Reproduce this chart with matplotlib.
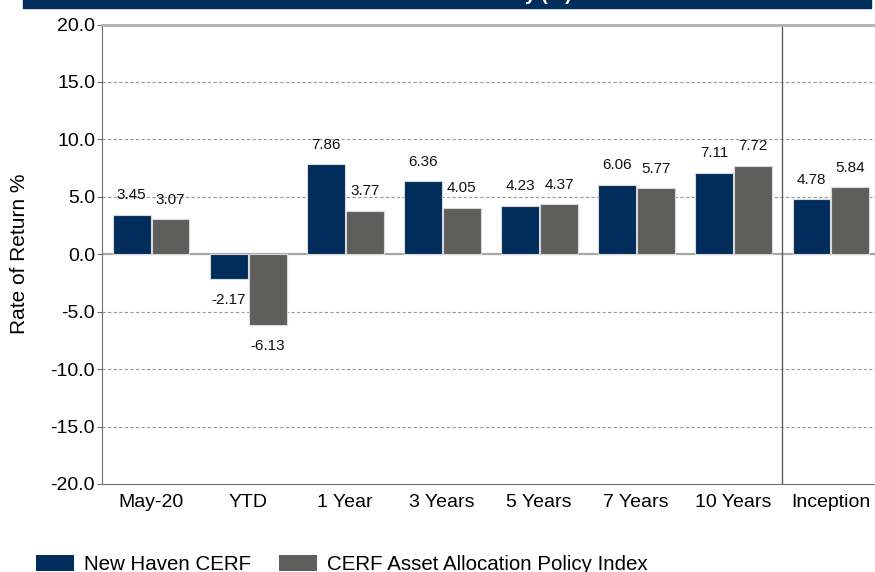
import matplotlib
matplotlib.use("Agg")
import matplotlib.pyplot as plt
from matplotlib.patches import Rectangle, Patch
import numpy as np

plt.rcParams['font.family'] = ['Liberation Sans', 'DejaVu Sans']

categories = ["May-20", "YTD", "1 Year", "3 Years", "5 Years", "7 Years", "10 Years", "Inception"]
cerf = [3.45, -2.17, 7.86, 6.36, 4.23, 6.06, 7.11, 4.78]
policy = [3.07, -6.13, 3.77, 4.05, 4.37, 5.77, 7.72, 5.84]
series_names = ["New Haven CERF", "CERF Asset Allocation Policy Index"]
yticks = [-20, -15, -10, -5, 0, 5, 10, 15, 20]

navy = "#002D5B"
gray = "#5E5F5C"

W, H = 875, 572
fig = plt.figure(figsize=(W / 100, H / 100), dpi=100)
ax = fig.add_axes([102 / W, 1 - 484 / H, 777 / W, (484 - 24.5) / H])

x = np.arange(len(categories))
bw = 0.39
ax.bar(x - 0.195, cerf, bw, color=navy, edgecolor="#d8d8d8", linewidth=0.8, zorder=3)
ax.bar(x + 0.205, policy, bw, color=gray, edgecolor="#d8d8d8", linewidth=0.8, zorder=3)

for off, vals in ((-0.195, cerf), (0.205, policy)):
    for xi, v in zip(x, vals):
        ax.annotate(f"{v:.2f}", (xi + off, v), xytext=(0, 14 if v >= 0 else -15),
                    textcoords="offset points", ha="center", va="center",
                    fontsize=11, color="#111111")

ax.set_xlim(-0.5, len(categories) - 0.5)
ax.set_ylim(-20, 20)
ax.set_yticks(yticks)
ax.set_yticklabels([f"{t:.1f}" for t in yticks], fontsize=14)
ax.set_xticks(x)
ax.set_xticklabels(categories, fontsize=14)
ax.tick_params(axis="x", length=0, pad=7)
ax.tick_params(axis="y", length=3.5, width=0.8, color="#707070", pad=1.5)

for t in [-15, -10, -5, 5, 10, 15]:
    ax.axhline(t, color="#9a9a9a", linewidth=0.8, linestyle=(0, (3, 2)), zorder=1)
ax.axhline(0, color="#a8a8a8", linewidth=1.6, zorder=1)
ax.axvline(len(categories) - 1.5, color="#505050", linewidth=0.9, zorder=2)

ax.spines["left"].set_color("#707070")
ax.spines["bottom"].set_color("#707070")
ax.spines["top"].set_color("#b0b0b0")
ax.spines["top"].set_linewidth(2)
ax.spines["right"].set_visible(False)

ax.set_ylabel("Rate of Return %", fontsize=15)
ax.yaxis.set_label_coords(-0.094, 0.5)

# title bar
fig.patches.append(Rectangle((23 / W, 1 - 8 / H), (871 - 23) / W, 8 / H + 0.01,
                             transform=fig.transFigure, color=navy, zorder=0))
fig.text(447 / W, 1 - 0.5 / H, "Performance Summary (%)", color="white", fontsize=14,
         fontweight="bold", ha="center", va="baseline")

handles = [Patch(facecolor=navy), Patch(facecolor=gray)]
fig.legend(handles, series_names, loc="upper left", bbox_to_anchor=(36 / W, 1 - 555 / H),
           ncol=2, frameon=False, fontsize=14.8, handlelength=1.85, handleheight=0.85,
           handletextpad=0.5, columnspacing=1.35, borderpad=0, borderaxespad=0)

fig.savefig("out.png", dpi=100)
